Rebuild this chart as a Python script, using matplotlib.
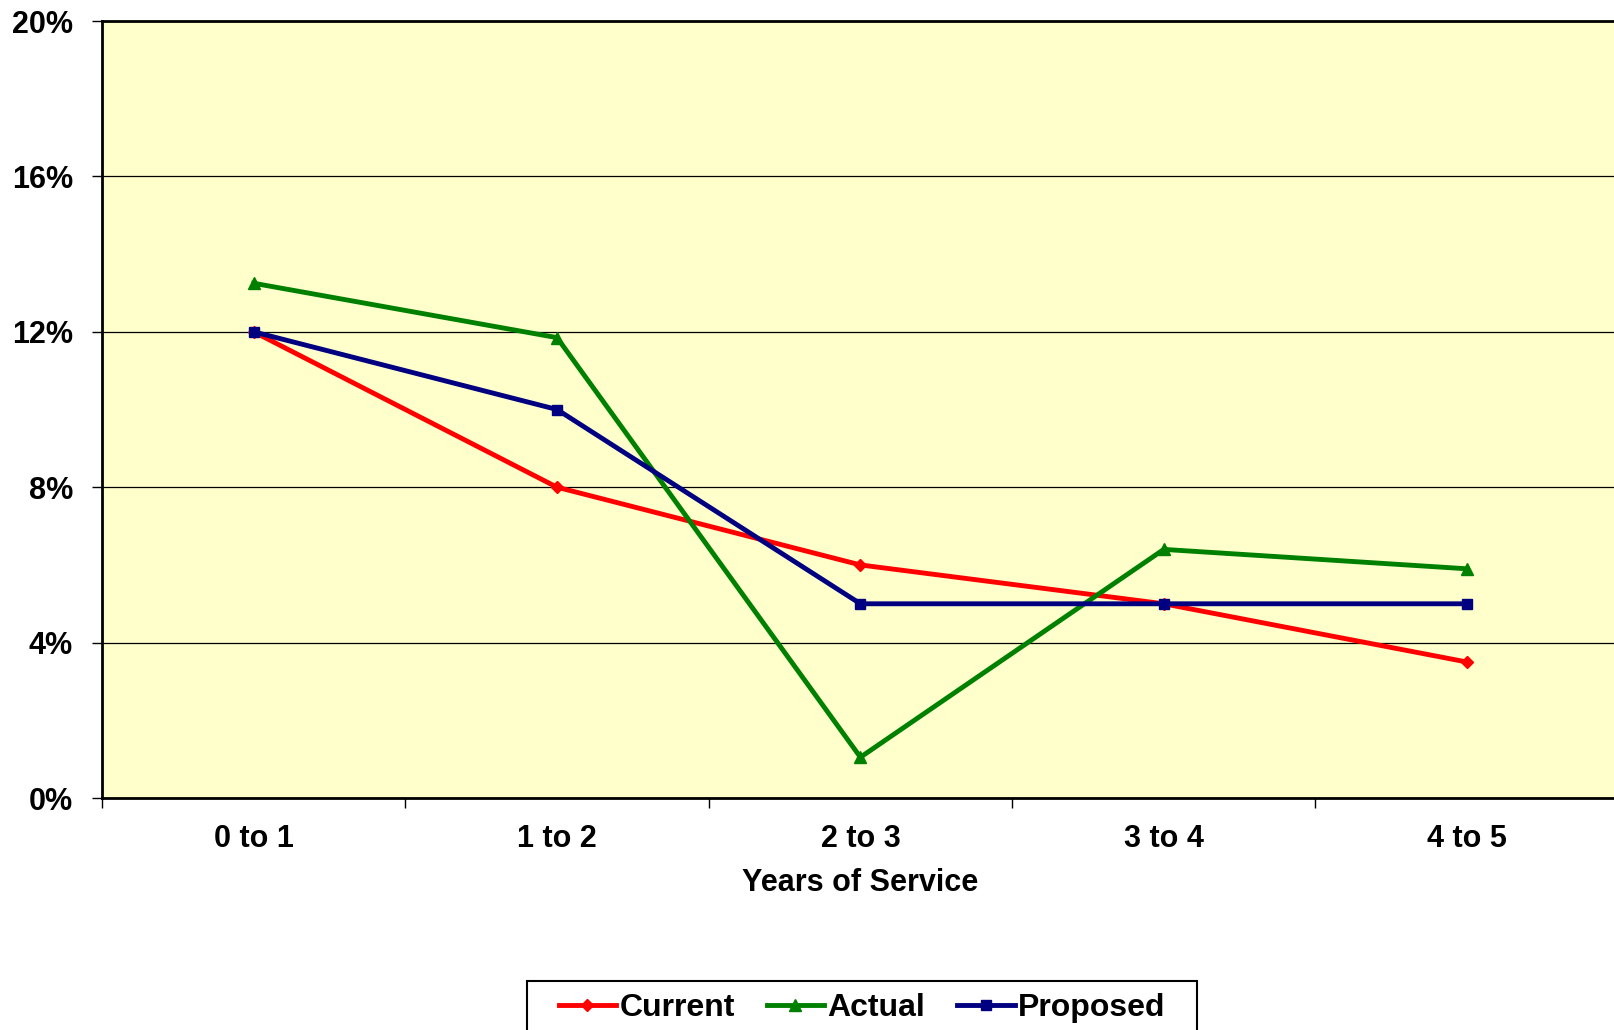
import numpy as np
import matplotlib.pyplot as plt
from matplotlib.patches import Rectangle

# Datos
categorias = ["0 to 1", "1 to 2", "2 to 3", "3 to 4", "4 to 5"]
current = [12.0, 8.0, 6.0, 5.0, 3.5]
actual = [13.25, 11.85, 1.05, 6.4, 5.9]
proposed = [12.0, 10.0, 5.0, 5.0, 5.0]
yticks = [0, 4, 8, 12, 16, 20]

plt.rcParams['font.family'] = ['Liberation Sans', 'DejaVu Sans']
plt.rcParams['font.weight'] = 'bold'

fig = plt.figure(figsize=(16.14, 10.30), dpi=100)
ax = fig.add_axes([0.0632, 0.2252, 0.9368 + 0.003, 0.9796 - 0.2252])
ax.set_facecolor('#FFFFCC')

x = np.arange(len(categorias))
ax.plot(x, current, color='#FF0000', lw=3.5, marker='D', ms=6.5, label='Current')
ax.plot(x, actual, color='#008000', lw=3.5, marker='^', ms=8.5, label='Actual')
ax.plot(x, proposed, color='#000080', lw=3.5, marker='s', ms=7, label='Proposed')

ax.set_xlim(-0.5, len(categorias) - 0.5)
ax.set_ylim(0, 20)
ax.set_yticks(yticks)
ax.set_yticklabels([f"{v}%" for v in yticks])
ax.yaxis.grid(True, color='black', lw=0.9)
ax.set_axisbelow(True)

# ticks en los límites de categoría
ax.set_xticks(np.arange(len(categorias) + 1) - 0.5)
ax.set_xticklabels([])
ax.set_xticks(x, minor=True)
ax.set_xticklabels(categorias, minor=True)
ax.tick_params(axis='x', which='major', length=7, width=1, direction='out')
ax.tick_params(axis='x', which='minor', length=0, pad=18.5, labelsize=22)
ax.tick_params(axis='y', length=7, width=1, direction='out', pad=14, labelsize=22)

for s in ['left', 'bottom', 'top']:
    ax.spines[s].set_linewidth(2)
    ax.spines[s].set_color('black')
ax.spines['right'].set_visible(False)

ax.set_xlabel("Years of Service", fontsize=22, fontweight='bold', labelpad=10)

leg = fig.legend(loc='upper center', bbox_to_anchor=(0.534, 0.0476), ncol=3,
                 fontsize=23, frameon=False,
                 handlelength=1.8, handletextpad=0.1, columnspacing=1.0,
                 borderpad=0.39, borderaxespad=0)

# marco de la leyenda con más margen horizontal
fig.canvas.draw()
bb = leg.get_window_extent()
fig.patches.append(Rectangle((bb.x0 - 19, bb.y0 - 30), bb.width + 38, bb.height + 30,
                             transform=None, fill=False, edgecolor='black', lw=1.5))

fig.savefig("out.png", dpi=100)
